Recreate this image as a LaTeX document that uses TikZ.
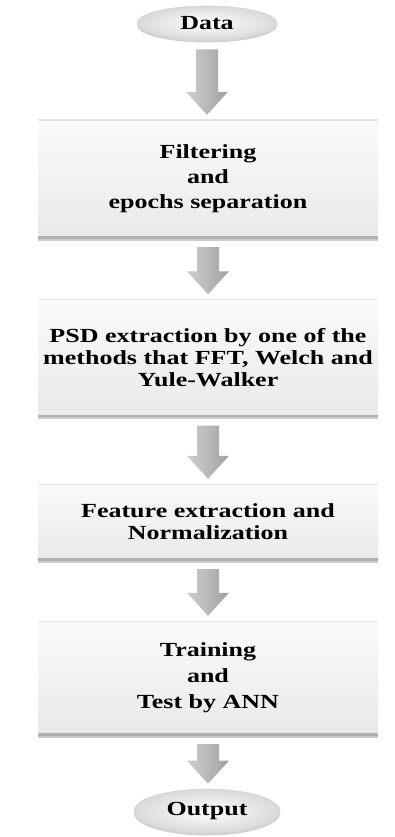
\documentclass[tikz,border=0pt]{standalone}
\usepackage{fontspec}
\setmainfont{Liberation Serif}[FakeStretch=1.3]
\usetikzlibrary{calc,shapes.geometric,shadows}
\begin{document}
\begin{tikzpicture}[x=1pt,y=-1pt,
  stepbox/.style={rectangle, minimum width=340pt, inner sep=0pt, align=center,
    top color=gray!4, bottom color=gray!17, draw=none,
    font=\bfseries\fontsize{20}{22}\selectfont,
    drop shadow={shadow xshift=0pt, shadow yshift=-2.5pt, opacity=0.4, fill=gray},
    path picture={
      \draw[gray!22, line width=1.4pt] (path picture bounding box.north west) -- (path picture bounding box.north east);
      \draw[gray!62, line width=3.4pt] (path picture bounding box.south west) -- (path picture bounding box.south east);
    }},
  endpoint/.style={ellipse, minimum width=140pt, minimum height=34pt, inner sep=0pt,
    inner color=white, outer color=gray!30, draw=gray!32, line width=0.6pt,
    font=\bfseries\fontsize{20}{22}\selectfont,
    drop shadow={shadow xshift=0pt, shadow yshift=-2.5pt, opacity=0.35, fill=gray}},
  blockarrow/.style={left color=gray!38, right color=gray!75, middle color=gray!55,
    to path={let \p1=(\tikztostart), \p2=(\tikztotarget) in
      (\x1-11pt,\y1-9pt) -- (\x1+11pt,\y1-9pt) -- (\x1+11pt,\y2+28pt)
      -- (\x1+21pt,\y2+28pt) -- (\x1,\y2+5pt) -- (\x1-21pt,\y2+28pt)
      -- (\x1-11pt,\y2+28pt) -- cycle}}
]
% canvas
\fill[white] (0,0) rectangle (394,837);
\useasboundingbox (0,0) rectangle (394,837);

% stages, top to bottom
\node[endpoint] (data) at (207,23) {Data};
\node[stepbox, minimum height=118pt, font=\bfseries\fontsize{20}{25}\selectfont]
  (filt) at (208,179) {Filtering\\and\\epochs separation};
\node[stepbox, minimum height=117pt] (psd) at (208,358)
  {PSD extraction by one of the\\methods that FFT, Welch and\\Yule-Walker};
\node[stepbox, minimum height=76pt] (feat) at (208,522)
  {Feature extraction and\\Normalization};
\node[stepbox, minimum height=114pt, font=\bfseries\fontsize{20}{26}\selectfont]
  (train) at (208,678) {Training\\and\\Test by ANN};
\node[endpoint, minimum height=44pt, minimum width=146pt] (out) at (207,811) {Output};

% block arrows between stages
\path[blockarrow] (data.south) to (filt.north);
\path[blockarrow] (filt.south) to (psd.north);
\path[blockarrow] (psd.south) to (feat.north);
\path[blockarrow] (feat.south) to (train.north);
\path[blockarrow] (train.south) to (out.north);
\end{tikzpicture}
\end{document}
